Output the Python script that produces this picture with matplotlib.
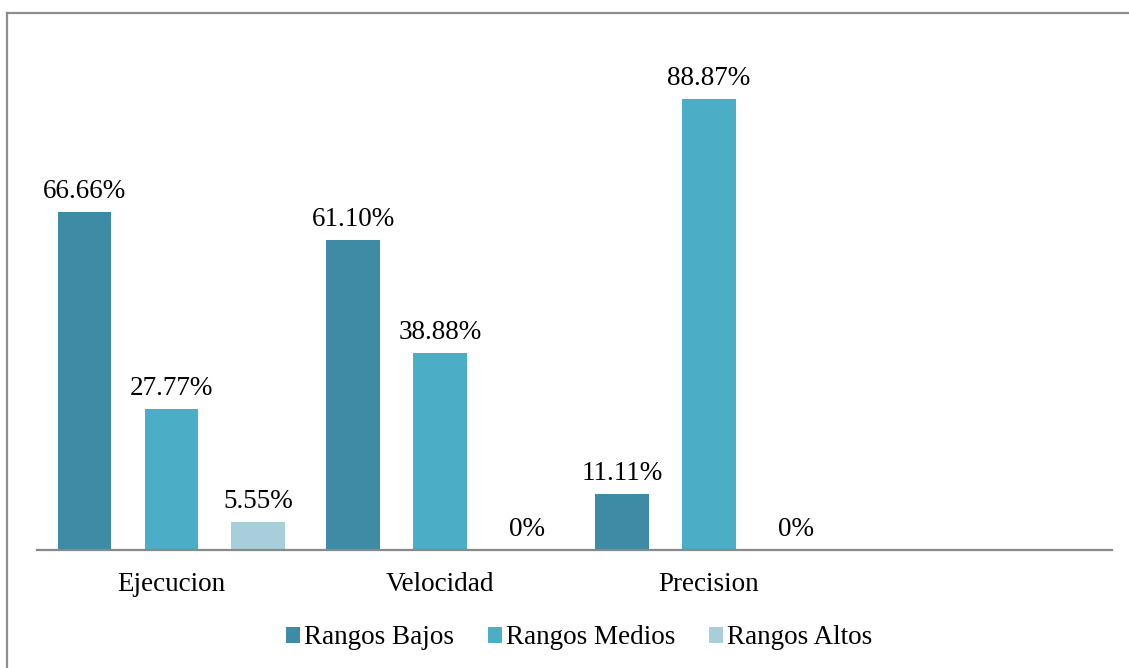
import matplotlib
matplotlib.use("Agg")
import matplotlib.pyplot as plt
from matplotlib.lines import Line2D
from matplotlib.patches import Patch
import numpy as np

categories = ["Ejecucion", "Velocidad", "Precision", ""]
series_names = ["Rangos Bajos", "Rangos Medios", "Rangos Altos"]
bajos = [66.66, 61.10, 11.11]
medios = [27.77, 38.88, 88.87]
altos = [5.55, 0.0, 0.0]
value_labels = [
    ["66.66%", "61.10%", "11.11%"],
    ["27.77%", "38.88%", "88.87%"],
    ["5.55%", "0%", "0%"],
]
colors = ["#3D8BA4", "#4BADC6", "#A8CEDC"]

W, H = 1129, 668
fig = plt.figure(figsize=(W / 100, H / 100), dpi=100)
fig.patch.set_facecolor("white")

# axes placement in pixels
left, right, bottom, top = 37, 1112, 550, 42.5
ax = fig.add_axes([left / W, 1 - bottom / H, (right - left) / W, (bottom - top) / H])

font = "Liberation Serif"
fs = 19.5

x = np.arange(len(categories))
width = 0.2
offsets = [-0.3237, 0.0, 0.3237]
series = [bajos, medios, altos]
for vals, off, col, labs, name in zip(series, offsets, colors, value_labels, series_names):
    xs = x[:len(vals)] + off
    ax.bar(xs, vals, width=width, color=col, label=name, zorder=2)
    for xi, v, lab in zip(xs, vals, labs):
        ax.annotate(lab, (xi, v), xytext=(0, 10), textcoords="offset points",
                    ha="center", va="baseline", fontsize=fs, family=font, color="black")

ax.set_xlim(-0.5, len(categories) - 0.5)
ax.set_ylim(0, 100)
ax.set_xticks(x)
ax.set_xticklabels(categories, fontsize=fs, family=font)
ax.tick_params(axis="x", length=0, pad=16)
ax.set_yticks([])
for s in ["top", "right", "left"]:
    ax.spines[s].set_visible(False)
ax.spines["bottom"].set_color("#888888")
ax.spines["bottom"].set_linewidth(1.6)
ax.patch.set_alpha(0)

handles = [Patch(facecolor=c, edgecolor="none") for c in colors]
fig.legend(handles, series_names, loc="center", bbox_to_anchor=(579 / W, 1 - 638 / H),
           ncol=3, frameon=False, prop={"family": font, "size": fs},
           handlelength=0.52, handleheight=0.52, handletextpad=0.15,
           columnspacing=1.25, borderpad=0)

# outer frame (top and left edges visible)
frame_col = "#8E8E8E"
fig.add_artist(Line2D([7 / W, 1.01], [1 - 13 / H, 1 - 13 / H], color=frame_col, lw=1.6,
                      transform=fig.transFigure))
fig.add_artist(Line2D([7 / W, 7 / W], [1 - 13 / H, -0.01], color=frame_col, lw=1.6,
                      transform=fig.transFigure))

fig.savefig("out.png", dpi=100)
